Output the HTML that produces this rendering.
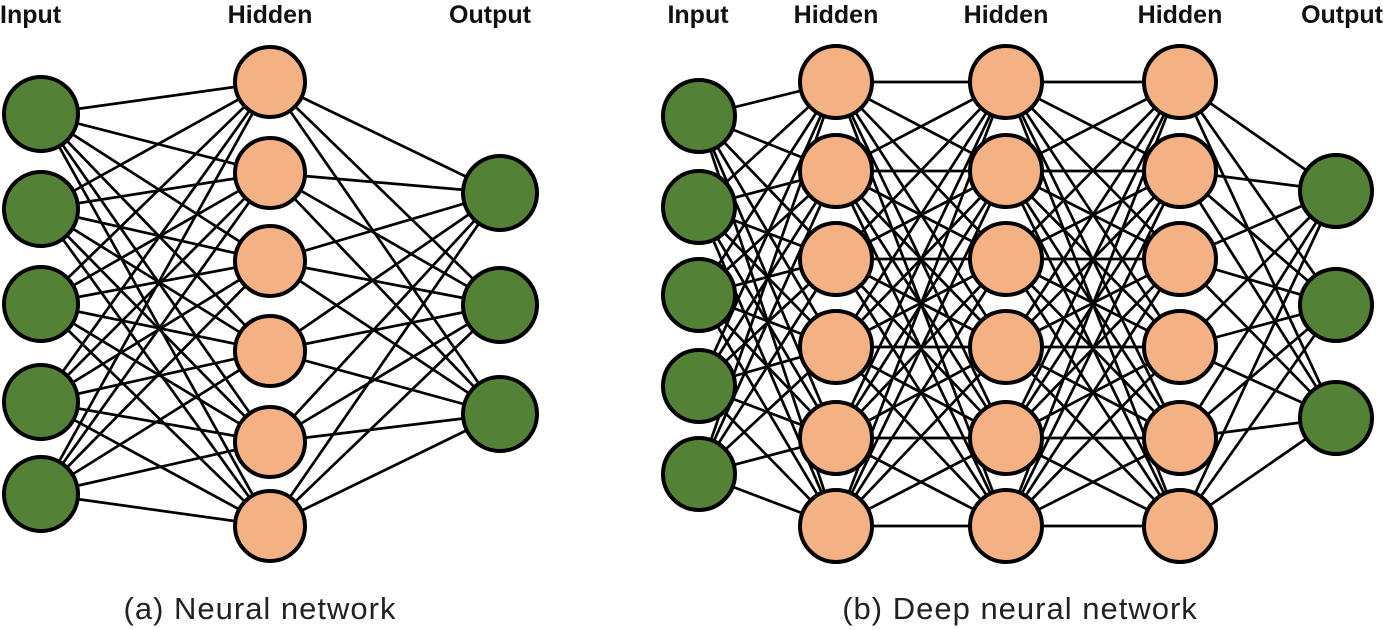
<!DOCTYPE html>
<html><head><meta charset="utf-8"><style>
html,body{margin:0;padding:0;background:#fff;width:1383px;height:630px;overflow:hidden}
svg{display:block}
.l{font-family:"Liberation Sans",sans-serif;font-weight:bold;font-size:25px;fill:#111}
.c{font-family:"Liberation Sans",sans-serif;font-size:31px;fill:#222;letter-spacing:1px}
</style></head><body>
<svg id="s" width="1383" height="630" viewBox="0 0 1383 630" xmlns="http://www.w3.org/2000/svg">
<g id="lines" stroke="#000" stroke-width="2.7"></g>
<g id="nodes" stroke="#000" stroke-width="4"></g>
<text class="l" x="0" y="23">Input</text>
<text class="l" x="270" y="23" text-anchor="middle">Hidden</text>
<text class="l" x="490" y="23" text-anchor="middle">Output</text>
<text class="l" x="698" y="23" text-anchor="middle">Input</text>
<text class="l" x="836" y="23" text-anchor="middle">Hidden</text>
<text class="l" x="1006" y="23" text-anchor="middle">Hidden</text>
<text class="l" x="1180" y="23" text-anchor="middle">Hidden</text>
<text class="l" x="1383" y="23" text-anchor="end">Output</text>
<text class="c" x="260" y="619" text-anchor="middle">(a) Neural network</text>
<text class="c" x="1020" y="619" text-anchor="middle">(b) Deep neural network</text>
</svg>
<script>
var G="#538135",P="#F4B183",ns="http://www.w3.org/2000/svg";
var L=document.getElementById("lines"),N=document.getElementById("nodes");
function net(layers){
 for(var i=0;i<layers.length-1;i++){var a=layers[i],b=layers[i+1];
  a.ys.forEach(function(y1){b.ys.forEach(function(y2){
   var l=document.createElementNS(ns,"line");l.setAttribute("x1",a.x);l.setAttribute("y1",y1);
   l.setAttribute("x2",b.x);l.setAttribute("y2",y2);L.appendChild(l);});});}
 layers.forEach(function(a){a.ys.forEach(function(y){
  var e=document.createElementNS(ns,"ellipse");e.setAttribute("cx",a.x);e.setAttribute("cy",y);
  e.setAttribute("rx",a.r||36);e.setAttribute("ry",a.r||36);e.setAttribute("fill",a.c);N.appendChild(e);});});
}
var h=[82,171,259,347,438,526];
net([{x:41,ys:[114,209,304,402,494],c:G,r:37},{x:270,ys:[82,173,261,351,442,526],c:P,r:35},{x:500,ys:[193,305,414],c:G,r:37}]);
net([{x:699,ys:[116,207,295,386,474],c:G,r:36},{x:836,ys:h,c:P},{x:1006,ys:h,c:P},{x:1180,ys:h,c:P},{x:1336,ys:[191,305,418],c:G,r:36}]);
</script>
</body></html>
